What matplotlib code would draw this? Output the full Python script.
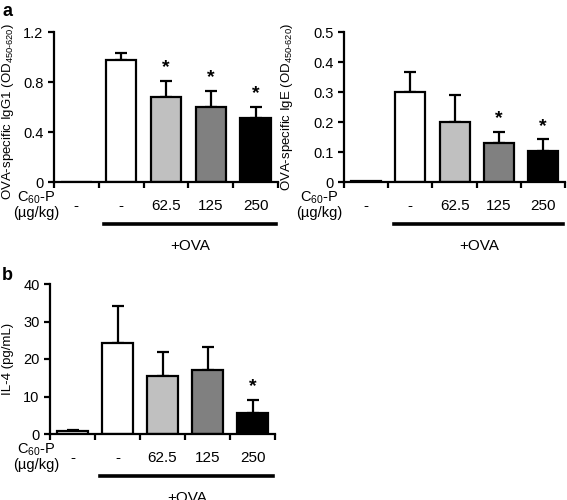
import matplotlib.pyplot as plt
from matplotlib.transforms import blended_transform_factory

plt.rcParams['font.family'] = ['Liberation Sans', 'DejaVu Sans']
plt.rcParams['mathtext.fontset'] = 'custom'
plt.rcParams['mathtext.rm'] = 'Liberation Sans'
plt.rcParams['mathtext.it'] = 'Liberation Sans:italic'
plt.rcParams['mathtext.bf'] = 'Liberation Sans:bold'

# groups and bar colours
doses = ['-', '-', '62.5', '125', '250']
colors = ['white', 'white', '#c0c0c0', '#808080', 'black']

# panel a: OVA-specific IgG1
igg1_mean = [0.0, 0.98, 0.68, 0.60, 0.51]
igg1_err = [0.0, 0.05, 0.13, 0.13, 0.09]
igg1_sig = [False, False, True, True, True]

# panel a: OVA-specific IgE
ige_mean = [0.005, 0.30, 0.20, 0.13, 0.105]
ige_err = [0.0, 0.068, 0.09, 0.038, 0.037]
ige_sig = [False, False, False, True, True]

# panel b: IL-4
il4_mean = [0.8, 24.2, 15.6, 17.2, 5.6]
il4_err = [0.4, 10.0, 6.2, 6.0, 3.5]
il4_sig = [False, False, False, False, True]

fig = plt.figure(figsize=(5.67, 5.0), dpi=100)


def panel(rect, mean, err, sig, ylim, yticks, yticklabels, ylabel, star_off, row_x):
    ax = fig.add_axes(rect)
    x = list(range(len(mean)))
    ax.bar(x, mean, width=0.68, color=colors, edgecolor='black', linewidth=1.6, zorder=2)
    for xi, m, e in zip(x, mean, err):
        if e > 0:
            ax.errorbar(xi, m, yerr=[[0], [e]], fmt='none', ecolor='black',
                        elinewidth=1.6, capsize=4, capthick=1.6, zorder=1)
    for xi, m, e, s in zip(x, mean, err, sig):
        if s:
            ax.text(xi, m + e + star_off, '*', ha='center', va='bottom',
                    fontsize=14, fontweight='bold')
    ax.set_xlim(-0.5, 4.5)
    ax.set_ylim(*ylim)
    ax.set_yticks(yticks)
    ax.set_yticklabels(yticklabels, fontsize=10.5)
    ax.set_xticks([i - 0.5 for i in range(6)])
    ax.set_xticklabels([])
    ax.tick_params(axis='both', direction='out', width=1.6, length=4)
    for s in ['top', 'right']:
        ax.spines[s].set_visible(False)
    for s in ['left', 'bottom']:
        ax.spines[s].set_linewidth(1.6)
    ax.set_ylabel(ylabel, fontsize=9.5, labelpad=4)
    ax.yaxis.set_label_coords(ax.yaxis.label.get_position()[0], 0.47)
    tr = blended_transform_factory(ax.transData, ax.transAxes)
    for xi, d in zip(x, doses):
        ax.text(xi, -0.16, d, transform=tr, ha='center', va='center', fontsize=11)
    ax.text(row_x, -0.105, r'C$_{60}$-P', transform=tr, ha='center', va='center', fontsize=10.5)
    ax.text(row_x, -0.205, '(µg/kg)', transform=tr, ha='center', va='center', fontsize=10.5)
    ax.plot([0.62, 4.46], [-0.28, -0.28], transform=tr, color='black', lw=2.6, clip_on=False)
    ax.text(2.55, -0.43, '+OVA', transform=tr, ha='center', va='center', fontsize=11)
    return ax


ax1 = panel([0.0952, 0.636, 0.395, 0.30], igg1_mean, igg1_err, igg1_sig, (0, 1.2),
            [0, 0.4, 0.8, 1.2], ['0', '0.4', '0.8', '1.2'],
            r'OVA-specific IgG1 (OD$_{\mathrm{450‐620}}$)', 0.04, -0.9)
ax2 = panel([0.6067, 0.636, 0.390, 0.30], ige_mean, ige_err, ige_sig, (0, 0.5),
            [0, 0.1, 0.2, 0.3, 0.4, 0.5], ['0', '0.1', '0.2', '0.3', '0.4', '0.5'],
            r'OVA-specific IgE (OD$_{\mathrm{450‐620}}$)', 0.015, -1.05)
ax3 = panel([0.0882, 0.132, 0.397, 0.30], il4_mean, il4_err, il4_sig, (0, 40),
            [0, 10, 20, 30, 40], ['0', '10', '20', '30', '40'],
            'IL-4 (pg/mL)', 1.2, -0.8)
ax1.yaxis.set_label_coords(-0.17, 0.47)
ax2.yaxis.set_label_coords(-0.22, 0.5)
ax3.yaxis.set_label_coords(-0.16, 0.5)

fig.text(0.004, 0.995, 'a', fontsize=13, fontweight='bold', va='top')
fig.text(0.004, 0.465, 'b', fontsize=13, fontweight='bold', va='top')

fig.savefig('out.png', dpi=100)
